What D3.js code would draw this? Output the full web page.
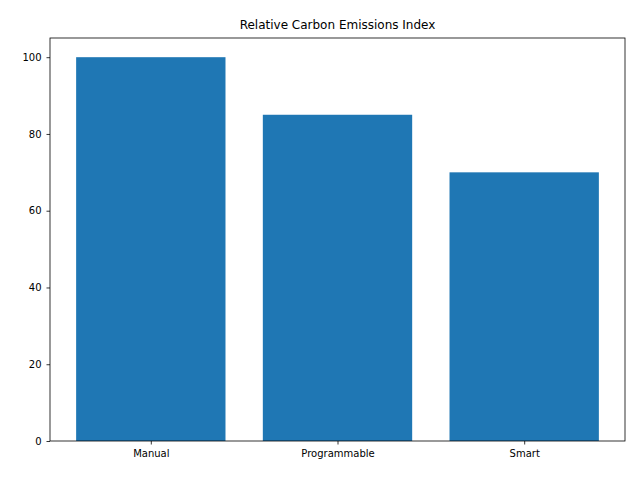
<!DOCTYPE html>
<html>
<head>
<meta charset="utf-8">
<script src="https://cdn.jsdelivr.net/npm/d3@7"></script>
<style>
  body { margin: 0; background: #fff; }
  text { font-family: "DejaVu Sans", sans-serif; }
</style>
</head>
<body>
<script>
//chart data
var categories = ["Manual", "Programmable", "Smart"];
var values = [100, 85, 70];
var yTicks = [0, 20, 40, 60, 80, 100];

var width = 640, height = 480;
var margin = {left: 50, right: 15, top: 38, bottom: 39};

var svg = d3.select("body").append("svg")
  .attr("width", width)
  .attr("height", height);

//matplotlib style: bar width 0.8, 5% margins
var x = d3.scaleLinear().domain([-0.54, 2.54]).range([margin.left, width - margin.right]);
var y = d3.scaleLinear().domain([0, 105]).range([height - margin.bottom, margin.top]);

svg.selectAll("rect.bar")
  .data(values)
  .enter()
  .append("rect")
  .attr("class", "bar")
  .attr("x", function(d, i) { return x(i - 0.4); })
  .attr("width", function(d, i) { return x(i + 0.4) - x(i - 0.4); })
  .attr("y", function(d) { return y(d); })
  .attr("height", function(d) { return y(0) - y(d); })
  .attr("fill", "#1f77b4");

var xAxis = d3.axisBottom(x)
  .tickValues(d3.range(categories.length))
  .tickFormat(function(i) { return categories[i]; })
  .tickSize(3.5).tickPadding(5);
var yAxis = d3.axisLeft(y).tickValues(yTicks).tickSize(3.5).tickPadding(5);

var gx = svg.append("g")
  .attr("transform", "translate(0," + (height - margin.bottom) + ")")
  .call(xAxis);
var gy = svg.append("g")
  .attr("transform", "translate(" + margin.left + ",0)")
  .call(yAxis);

[gx, gy].forEach(function(g) {
  g.select(".domain").remove();
  g.selectAll("text").attr("font-size", 10).attr("fill", "#000")
    .style("font-family", "DejaVu Sans");
  g.selectAll("line").attr("stroke", "#000").attr("stroke-width", 0.8);
});

//frame
svg.append("rect")
  .attr("x", margin.left)
  .attr("y", margin.top)
  .attr("width", width - margin.left - margin.right)
  .attr("height", height - margin.top - margin.bottom)
  .attr("fill", "none")
  .attr("stroke", "#000")
  .attr("stroke-width", 0.8);

svg.append("text")
  .attr("x", (margin.left + width - margin.right) / 2)
  .attr("y", margin.top - 9)
  .attr("text-anchor", "middle")
  .attr("font-size", 12)
  .text("Relative Carbon Emissions Index");
</script>
</body>
</html>
